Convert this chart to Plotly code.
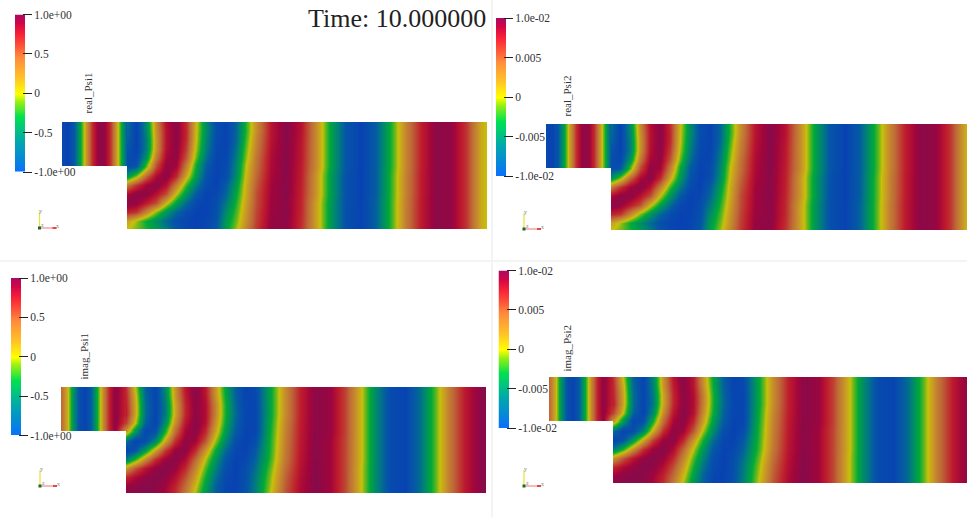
import plotly.graph_objects as go

W, H = 967, 517

row_y = [0, 9, 18, 27, 36, 42.5, 43.5, 54, 63, 72, 81, 90, 99, 107]
channel_x = [-64, -58, -52, -46, -40, -34, -28, -22, -16, -10, -0.5]
near_x = [0.5, 10, 20, 30, 40, 50, 60, 70, 80, 90, 100, 110, 120, 130, 145, 160, 175]
far_x = [190, 205, 220, 235, 250, 265, 280, 295, 310, 325, 340, 355, 361]

real_channel = [
    [-.95, -1, -.8, -.35, .2, .67, .96, .96, .67, .18, -.75],
]
real_near = [
    [-.67, -1, -.53, .28, .83, .99, .68, .05, -.52, -.91, -.99, -.73, -.23, .25, .79, 1, .8],
    [-.7, -1, -.55, .24, .8, .98, .7, .02, -.5, -.9, -.99, -.73, -.23, .25, .79, 1, .8],
    [-.75, -1, -.6, .21, .8, .99, .68, 0, -.55, -.92, -.99, -.72, -.18, .3, .8, 1, .78],
    [-.85, -1, -.6, .22, .82, .98, .62, -.05, -.6, -.94, -.98, -.65, -.12, .33, .82, 1, .77],
    [-.9, -.95, -.45, .36, .88, .95, .52, -.15, -.68, -.97, -.96, -.6, -.07, .38, .84, 1, .76],
    [-.9, -.85, -.18, .55, .95, .9, .35, -.3, -.78, -.99, -.92, -.55, 0, .4, .85, 1, .75],
    [-.9, -.85, -.18, .55, .95, .9, .35, -.3, -.78, -.99, -.92, -.55, 0, .4, .85, 1, .75],
    [-.45, -.1, .45, .85, 1, .7, .12, -.42, -.85, -1, -.9, -.5, .05, .45, .87, .99, .74],
    [.36, .65, .9, 1, .8, .33, -.2, -.62, -.92, -1, -.78, -.4, .1, .5, .89, .99, .73],
    [.85, .98, .98, .8, .55, 0, -.45, -.81, -.99, -.95, -.72, -.32, .12, .55, .9, .99, .72],
    [1, .95, .75, .55, .05, -.37, -.71, -.94, -1, -.89, -.62, -.25, .17, .55, .91, .98, .7],
    [.72, .65, .3, -.1, -.45, -.72, -.9, -1, -.99, -.88, -.5, -.18, .21, .58, .92, .98, .7],
    [.15, -.05, -.3, -.5, -.7, -.88, -.97, -1, -.97, -.85, -.42, -.12, .25, .6, .94, .97, .68],
    [0, -.1, -.25, -.38, -.6, -.82, -.95, -1, -.97, -.8, -.38, -.05, .3, .62, .95, .96, .67],
]
real_far = [
    [.26, -.37, -.84, -1, -.77, -.25, .31, .74, .98, .95, .65, .1, 0],
    [.2, -.41, -.87, -1, -.76, -.22, .33, .75, .98, .95, .65, .1, 0],
    [.15, -.44, -.88, -.99, -.74, -.21, .35, .76, .98, .95, .65, .1, 0],
]

imag_channel = [
    [.45, .1, -.47, -.88, -.99, -.77, -.29, .27, .72, .98, .72],
    [.45, .1, -.47, -.88, -.99, -.77, -.29, .27, .72, .98, .62],
    [.45, .1, -.47, -.88, -.99, -.77, -.29, .27, .72, .95, .28],
]
imag_near = [
    [.66, 0, -.76, -.99, -.54, .22, .78, 1, .78, .22, -.34, -.77, -.99, -.94, -.35, .26, .73],
    [.7, .08, -.72, -.97, -.57, .2, .74, .99, .8, .25, -.3, -.74, -.98, -.95, -.35, .26, .73],
    [.72, .13, -.68, -.98, -.62, .13, .7, .98, .84, .32, -.26, -.72, -.97, -.96, -.35, .26, .73],
    [.75, .13, -.68, -.98, -.62, .13, .7, .98, .84, .32, -.26, -.7, -.96, -.97, -.35, .26, .73],
    [.6, 0, -.75, -.99, -.5, .25, .78, 1, .82, .25, -.3, -.74, -.97, -.97, -.32, .29, .74],
    [.25, -.4, -.94, -.89, -.28, .41, .87, .99, .72, .16, -.38, -.78, -.98, -.97, -.3, .31, .75],
    [.25, -.4, -.94, -.89, -.28, .41, .87, .99, .72, .16, -.38, -.78, -.98, -.97, -.3, .31, .75],
    [-.69, -.98, -.9, -.55, .12, .68, .97, .9, .53, -.05, -.52, -.88, -1, -.9, -.27, .33, .76],
    [-1, -.85, -.42, .12, .62, .93, .98, .7, .22, -.28, -.69, -.95, -.99, -.81, -.25, .35, .77],
    [-.62, -.25, .24, .66, .92, 1, .85, .46, 0, -.44, -.81, -.99, -.95, -.75, -.22, .37, .78],
    [.2, .52, .78, .95, 1, .93, .7, .3, -.15, -.56, -.88, -1, -.9, -.68, -.15, .42, .8],
    [.7, .85, .95, 1, .97, .82, .55, .17, -.27, -.66, -.92, -1, -.88, -.62, -.09, .47, .82],
    [.92, .97, 1, .98, .9, .72, .43, .05, -.37, -.74, -.96, -.99, -.87, -.6, -.05, .5, .84],
    [.98, 1, 1, .97, .87, .67, .35, -.05, -.43, -.76, -.96, -.99, -.86, -.58, 0, .53, .85],
]
imag_far = [
    [.98, .93, .6, .07, -.51, -.92, -.98, -.68, -.16, .38, .77, .98, 1],
    [.99, .9, .58, .07, -.51, -.92, -.98, -.68, -.16, .38, .77, .98, 1],
    [1, .9, .58, .05, -.51, -.92, -.98, -.68, -.16, .38, .77, .98, 1],
]

real_channel_rows = [0, 0, 0, 0, 0, 0, None, None, None, None, None, None, None, None]
imag_channel_rows = [0, 0, 0, 0, 1, 2, None, None, None, None, None, None, None, None]
far_rows = [0, 0, 0, 0, 0, 0, 0, 1, 1, 1, 2, 2, 2, 2]

# ---- colour bars ----
bar_values = [-1, -.9, -.8, -.7, -.6, -.5, -.4, -.3, -.2, -.1, 0, .1, .2, .3, .4, .5, .6, .7, .8, .9, 1]
tick_fractions = [-1, -.5, 0, .5, 1]
tick_text_psi1 = ["-1.0e+00", "-0.5", "0", "0.5", "1.0e+00"]
tick_text_psi2 = ["-1.0e-02", "-0.005", "0", "0.005", "1.0e-02"]

field_scale = [
    [0.00, "rgb(8,66,178)"], [0.10, "rgb(5,88,165)"], [0.20, "rgb(0,125,125)"],
    [0.35, "rgb(0,170,55)"], [0.45, "rgb(120,185,25)"], [0.50, "rgb(200,192,10)"],
    [0.60, "rgb(200,150,40)"], [0.725, "rgb(190,105,55)"], [0.875, "rgb(190,25,45)"],
    [0.95, "rgb(160,5,60)"], [1.00, "rgb(135,10,75)"],
]
bar_scale = [
    [0.00, "rgb(10,110,255)"], [0.20, "rgb(0,170,170)"], [0.35, "rgb(0,225,80)"],
    [0.45, "rgb(150,240,20)"], [0.50, "rgb(255,255,0)"], [0.60, "rgb(255,195,40)"],
    [0.725, "rgb(255,140,60)"], [0.875, "rgb(250,35,55)"], [0.95, "rgb(210,5,70)"],
    [1.00, "rgb(170,10,100)"],
]

SERIF = "Liberation Serif"
TEXT = "#333333"

panels = [
    dict(name="real_Psi1", ch=real_channel, chi=real_channel_rows, near=real_near, far=real_far,
         unit=1.0, ticks=tick_text_psi1, left=62, right=487, top=122, bottom=229, step_x=126,
         bar_l=15, bar_r=25, bar_t=14.5, bar_b=172, tick_l=22, label_x=88, label_t=70, label_b=117,
         tri=(39.5, 228)),
    dict(name="real_Psi2", ch=real_channel, chi=real_channel_rows, near=real_near, far=real_far,
         unit=0.01, ticks=tick_text_psi2, left=546, right=967, top=124, bottom=230, step_x=610,
         bar_l=496, bar_r=506, bar_t=18, bar_b=176, tick_l=503, label_x=566, label_t=73, label_b=120,
         tri=(524, 229)),
    dict(name="imag_Psi1", ch=imag_channel, chi=imag_channel_rows, near=imag_near, far=imag_far,
         unit=1.0, ticks=tick_text_psi1, left=61, right=486, top=387, bottom=493, step_x=125,
         bar_l=11, bar_r=21, bar_t=278, bar_b=435.5, tick_l=18, label_x=83, label_t=330, label_b=383,
         tri=(40, 486)),
    dict(name="imag_Psi2", ch=imag_channel, chi=imag_channel_rows, near=imag_near, far=imag_far,
         unit=0.01, ticks=tick_text_psi2, left=549, right=967, top=377, bottom=483, step_x=612.5,
         bar_l=498.5, bar_r=509, bar_t=270.5, bar_b=428, tick_l=506, label_x=566.5, label_t=323, label_b=375,
         tri=(524, 486)),
]


def px(v):
    return v / W


def py(v):
    return 1 - v / H


fig = go.Figure()
layout = {}
shapes = []
annotations = []
blank_channel = [None] * len(channel_x)

for i, p in enumerate(panels):
    fa, ba = 2 * i + 1, 2 * i + 2
    xs = channel_x + near_x + far_x
    z = []
    for r in range(len(row_y)):
        ch_row = blank_channel if p["chi"][r] is None else p["ch"][p["chi"][r]]
        z.append([None if v is None else v * p["unit"]
                  for v in ch_row + p["near"][r] + p["far"][far_rows[r]]])
    fig.add_trace(go.Heatmap(
        x=xs, y=row_y, z=z, zsmooth="best", zmin=-p["unit"], zmax=p["unit"],
        colorscale=field_scale, showscale=False, hoverinfo="skip",
        xaxis=f"x{fa}", yaxis=f"y{fa}",
    ))
    layout[f"xaxis{fa}"] = dict(
        domain=[px(p["left"]), px(p["right"])], anchor=f"y{fa}",
        range=[p["left"] - p["step_x"], p["right"] - p["step_x"]], visible=False,
    )
    layout[f"yaxis{fa}"] = dict(
        domain=[py(p["bottom"]), py(p["top"])], anchor=f"x{fa}",
        range=[p["bottom"] - p["top"], 0], visible=False,
    )

    # colour bar as a strip with its own value axis
    fig.add_trace(go.Heatmap(
        x=[0], y=[v * p["unit"] for v in bar_values], z=[[v * p["unit"]] for v in bar_values],
        zsmooth="best", zmin=-p["unit"], zmax=p["unit"], colorscale=bar_scale, showscale=False,
        hoverinfo="skip", xaxis=f"x{ba}", yaxis=f"y{ba}",
    ))
    layout[f"xaxis{ba}"] = dict(
        domain=[px(p["bar_l"]), px(p["bar_r"])], anchor=f"y{ba}", range=[-.5, .5], visible=False,
    )
    layout[f"yaxis{ba}"] = dict(
        domain=[py(p["bar_b"]), py(p["bar_t"])], anchor="free", position=px(p["tick_l"]), side="right",
        range=[-p["unit"], p["unit"]], tickmode="array",
        tickvals=[v * p["unit"] for v in tick_fractions], ticktext=p["ticks"],
        ticks="outside", ticklen=9, tickwidth=1, tickcolor="#222222", showgrid=False, zeroline=False,
        showline=False, tickfont=dict(family=SERIF, size=11.5, color=TEXT),
    )

    # vertical field name
    annotations.append(dict(
        text=p["name"], textangle=-90, xref="paper", yref="paper", showarrow=False,
        x=px(p["label_x"]), y=py((p["label_t"] + p["label_b"]) / 2),
        font=dict(family=SERIF, size=11, color=TEXT), xanchor="center", yanchor="middle",
    ))

    # orientation triad
    ox, oy = p["tri"]
    for dx, dy, c in [(0, -16, "#e8e23c"), (17, 0, "#f58a8a")]:
        shapes.append(dict(type="line", xref="paper", yref="paper", x0=px(ox), y0=py(oy),
                           x1=px(ox + dx), y1=py(oy + dy), line=dict(color=c, width=1.2)))
    shapes.append(dict(type="line", xref="paper", yref="paper", x0=px(ox + 13), y0=py(oy),
                       x1=px(ox + 17), y1=py(oy), line=dict(color="#e02020", width=1.5)))
    shapes.append(dict(type="rect", xref="paper", yref="paper", x0=px(ox - 1.5), y0=py(oy - 1.5),
                       x1=px(ox + 1.5), y1=py(oy + 1.5), fillcolor="#1a6b2a", line_width=0))
    for label, dx, dy in [("y", 1, -17), ("x", 18, -2), ("z", 3, -3)]:
        annotations.append(dict(
            text=label, xref="paper", yref="paper", showarrow=False, x=px(ox + dx), y=py(oy + dy),
            font=dict(family=SERIF, size=6, color="#888888"), xanchor="center", yanchor="middle",
        ))

# light separators between views
shapes.append(dict(type="rect", xref="paper", yref="paper", x0=px(491), x1=px(493), y0=0, y1=1,
                   fillcolor="#f4f4f4", line_width=0, layer="below"))
shapes.append(dict(type="rect", xref="paper", yref="paper", x0=0, x1=1, y0=py(262), y1=py(260),
                   fillcolor="#f4f4f4", line_width=0, layer="below"))

annotations.append(dict(
    text="Time: 10.000000", xref="paper", yref="paper", showarrow=False, x=px(488), y=py(18),
    xanchor="right", yanchor="middle", font=dict(family=SERIF, size=26, color="#222222"),
))

fig.update_layout(
    width=W, height=H, margin=dict(l=0, r=0, t=0, b=0, autoexpand=False),
    paper_bgcolor="white", plot_bgcolor="white",
    showlegend=False, shapes=shapes, annotations=annotations, **layout,
)
fig.write_html("out.html", post_script="document.body.style.margin='0';document.body.style.overflow='hidden';",
               config=dict(displayModeBar=False))
